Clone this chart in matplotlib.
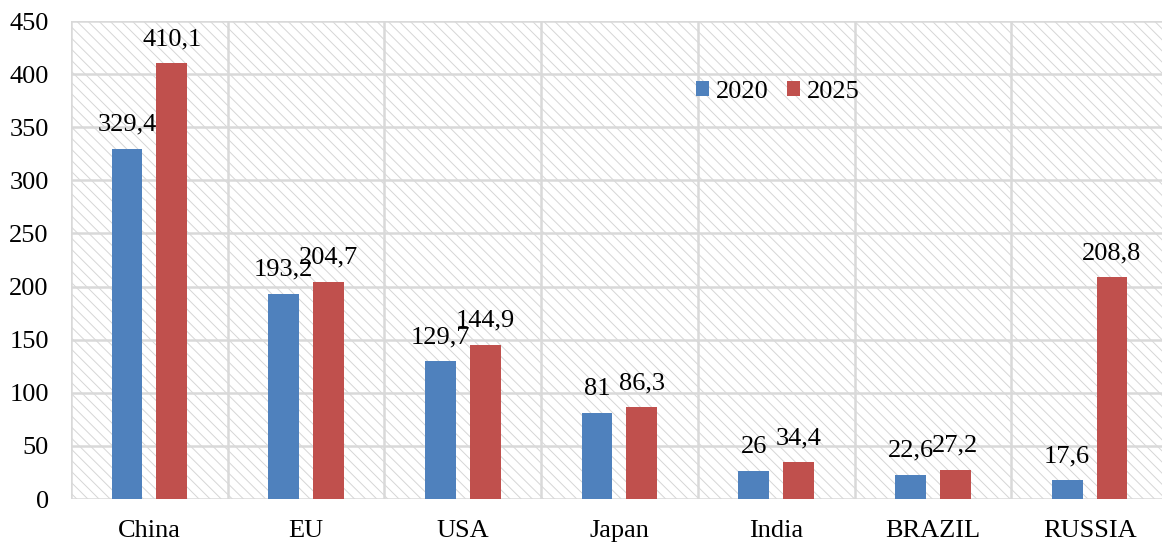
import matplotlib

matplotlib.use("Agg")
import matplotlib.pyplot as plt
import numpy as np
from matplotlib.patches import Rectangle

categories = ["China", "EU", "USA", "Japan", "India", "BRAZIL", "RUSSIA"]
values_2020 = [329.4, 193.2, 129.7, 81, 26, 22.6, 17.6]
values_2025 = [410.1, 204.7, 144.9, 86.3, 34.4, 27.2, 208.8]
series_names = ["2020", "2025"]
yticks = [0, 50, 100, 150, 200, 250, 300, 350, 400, 450]

BLUE = "#4f81bd"
RED = "#c0504d"
GRID = "#d9d9d9"
FS = 19

plt.rcParams["font.family"] = ["Liberation Serif", "DejaVu Serif"]
plt.rcParams["hatch.linewidth"] = 0.7


def fmt(v: float) -> str:
    return f"{v:g}".replace(".", ",")


fig = plt.figure(figsize=(11.62, 5.45), dpi=100)
ax = fig.add_axes([0.0611, 0.0844, 0.944, 0.877])

n = len(categories)
x = np.arange(n)
width = 0.197
offset = 0.143

# hatched background of the plot area
ax.add_patch(
    Rectangle((0, 0), 1, 1, transform=ax.transAxes, facecolor="white",
              edgecolor="#d6d6d6", linewidth=0, hatch="\\\\\\", zorder=0)
)

b1 = ax.bar(x - offset, values_2020, width, color=BLUE, label=series_names[0], zorder=3)
b2 = ax.bar(x + offset, values_2025, width, color=RED, label=series_names[1], zorder=3)

for bars, vals in ((b1, values_2020), (b2, values_2025)):
    for rect, v in zip(bars, vals):
        ax.annotate(fmt(v), (rect.get_x() + rect.get_width() / 2, v),
                    xytext=(0, 9.5), textcoords="offset points",
                    ha="center", va="bottom", fontsize=FS, zorder=4)

ax.set_xlim(-0.5, n - 0.5)
ax.set_ylim(0, 450)
ax.set_yticks(yticks)
ax.set_xticks(x)
ax.set_xticklabels(categories)
ax.tick_params(axis="both", length=0, labelsize=FS)
ax.tick_params(axis="y", pad=16)
ax.tick_params(axis="x", pad=15)

ax.set_xticks(np.arange(n + 1) - 0.5, minor=True)
ax.grid(axis="y", which="major", color=GRID, linewidth=1.8, zorder=1)
ax.grid(axis="x", which="minor", color=GRID, linewidth=1.8, zorder=1)
ax.tick_params(axis="x", which="minor", length=0)
ax.set_axisbelow(True)
for s in ax.spines.values():
    s.set_visible(False)

ax.legend(loc="center", bbox_to_anchor=(0.644, 0.851), ncol=2, frameon=False,
          fontsize=FS, handlelength=0.5, handleheight=0.5, handletextpad=0.25,
          columnspacing=0.7, borderpad=0)

fig.savefig("out.png", dpi=100)
